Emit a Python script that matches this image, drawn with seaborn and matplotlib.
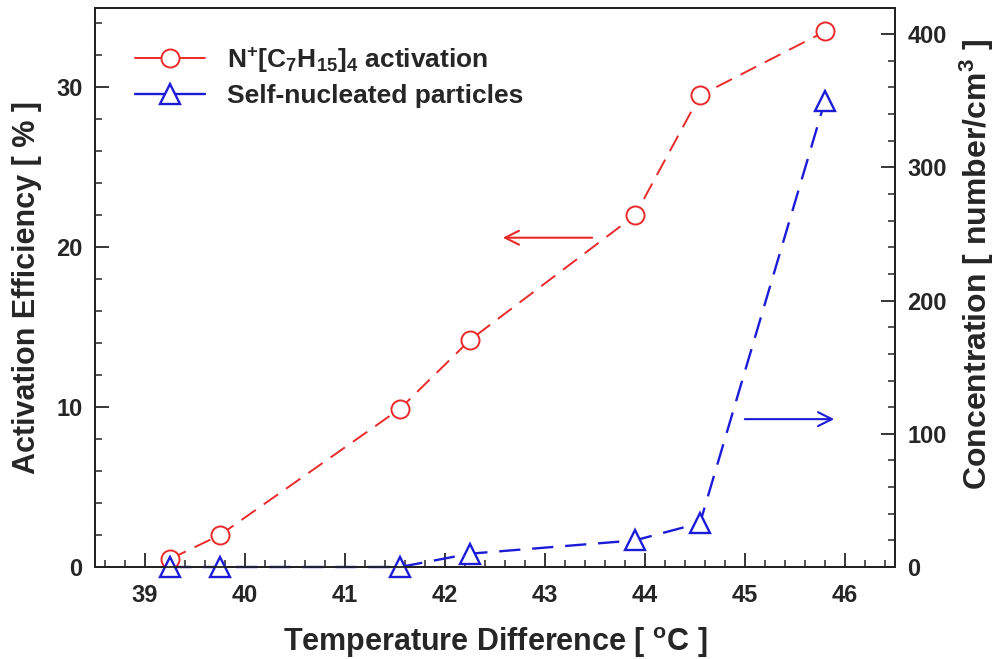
import matplotlib
matplotlib.use("Agg")
import matplotlib.pyplot as plt
from matplotlib.ticker import MultipleLocator
from matplotlib.lines import Line2D
import seaborn as sns

# Temperature difference between saturator and condenser (°C)
temp_red = [39.25, 39.75, 41.55, 42.25, 43.9, 44.55, 45.8]
activation_eff = [0.5, 2.0, 9.9, 14.2, 22.0, 29.5, 33.5]   # %

temp_blue = [39.25, 39.75, 41.55, 42.25, 43.9, 44.55, 45.8]
self_nucl = [0, 0, 0, 10, 20, 33, 350]                      # number/cm^3

x_ticks = [39, 40, 41, 42, 43, 44, 45, 46]
left_ticks = [0, 10, 20, 30]
right_ticks = [0, 100, 200, 300, 400]

label_red = r"N$^{+}$[C$_{7}$H$_{15}$]$_{4}$ activation"
label_blue = "Self-nucleated particles"

RED = "#ea2a2a"
BLUE = "#1c1cd8"

sns.set_style("ticks")
plt.rcParams["font.family"] = ["Liberation Sans", "DejaVu Sans"]
plt.rcParams["font.weight"] = "bold"
plt.rcParams["mathtext.fontset"] = "custom"
plt.rcParams["mathtext.rm"] = "Liberation Sans:bold"
plt.rcParams["mathtext.it"] = "Liberation Sans:bold"
plt.rcParams["mathtext.bf"] = "Liberation Sans:bold"
plt.rcParams["mathtext.default"] = "rm"

fig = plt.figure(figsize=(10, 6.59), dpi=100)
ax = fig.add_axes([0.095, 0.1396, 0.80, 0.849])
ax2 = ax.twinx()

dash = (0, (9, 5))
sns.lineplot(x=temp_red, y=activation_eff, ax=ax, color=RED, marker="o",
             markersize=13, markerfacecolor="white", markeredgecolor=RED,
             markeredgewidth=1.4, linewidth=1.4, linestyle=dash, legend=False)
sns.lineplot(x=temp_blue, y=self_nucl, ax=ax2, color=BLUE, marker="^",
             markersize=14, markerfacecolor="white", markeredgecolor=BLUE,
             markeredgewidth=1.7, linewidth=1.7, linestyle=dash, legend=False)
for ln in ax.lines + ax2.lines:
    ln.set_clip_on(False)

ax.set_xlim(38.5, 46.5)
ax.set_ylim(0, 35)
ax2.set_ylim(0, 420)

ax.set_xticks(x_ticks)
ax.set_yticks(left_ticks)
ax2.set_yticks(right_ticks)
ax.xaxis.set_minor_locator(MultipleLocator(0.2))
ax.yaxis.set_minor_locator(MultipleLocator(2))
ax2.yaxis.set_minor_locator(MultipleLocator(20))

for a in (ax, ax2):
    a.tick_params(which="major", direction="in", length=10, width=1.3,
                  labelsize=17, pad=9)
    a.tick_params(which="minor", direction="in", length=5, width=1.1)
    for s in a.spines.values():
        s.set_linewidth(1.3)
        s.set_color("#222222")
ax.tick_params(axis="x", which="both", top=False, pad=12.5)
ax.tick_params(axis="y", which="both", right=False)
ax2.tick_params(axis="y", which="both", left=False)

ax.set_xlabel(r"Temperature Difference [ $^{o}$C ]", fontsize=22,
              fontweight="bold", labelpad=13)
ax.set_ylabel("Activation Efficiency [ % ]", fontsize=22, fontweight="bold",
              labelpad=10)
ax2.set_ylabel(r"Concentration [ number/cm$^{3}$ ]", fontsize=23,
               fontweight="bold")
ax2.yaxis.set_label_coords(1.078, 0.54)

# Arrows pointing to the axis each series belongs to
ax.annotate("", xy=(42.55, 20.6), xytext=(43.5, 20.6),
            arrowprops=dict(arrowstyle="->", color=RED, lw=1.5,
                            mutation_scale=25))
ax2.annotate("", xy=(45.92, 111), xytext=(44.97, 111),
             arrowprops=dict(arrowstyle="->", color=BLUE, lw=1.5,
                             mutation_scale=25))

handles = [
    Line2D([], [], color=RED, marker="o", markersize=13,
           markerfacecolor="white", linestyle="-", linewidth=1.4,
           markeredgewidth=1.4),
    Line2D([], [], color=BLUE, marker="^", markersize=14,
           markerfacecolor="white", linestyle="-", linewidth=1.7,
           markeredgewidth=1.7),
]
ax.legend(handles, [label_red, label_blue], loc="upper left",
          bbox_to_anchor=(0.02, 0.975), frameon=False, fontsize=19,
          handlelength=2.65, handletextpad=0.83, labelspacing=0.35)

fig.savefig("out.png", dpi=100)
